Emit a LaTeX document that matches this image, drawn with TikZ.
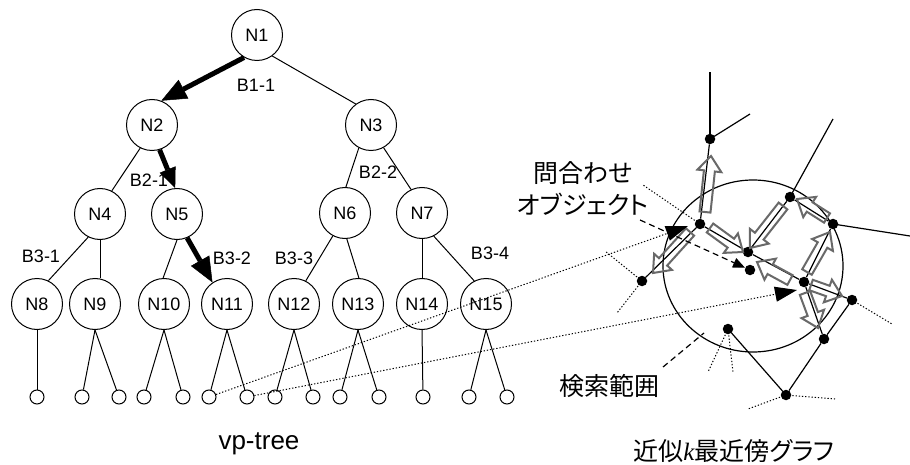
\documentclass[tikz,border=0pt]{standalone}
\usepackage{fontspec}
\setmainfont{Liberation Sans}
\newfontfamily\jpfont[RawFeature=+palt]{Noto Sans CJK JP}
\newfontfamily\kfont{Liberation Serif}
\usetikzlibrary{arrows.meta,calc}
\definecolor{hgray}{RGB}{105,105,105}
\newcommand\hollowarrow[2]{%
  \coordinate (hab) at ($(#2)!15pt!(#1)$);
  \draw[harrow] ($(#1)!5.5pt!90:(#2)$) -- ($(hab)!5.5pt!-90:(#1)$) -- ($(hab)!12pt!-90:(#1)$) -- (#2)
    -- ($(hab)!12pt!90:(#1)$) -- ($(hab)!5.5pt!90:(#1)$) -- ($(#1)!5.5pt!-90:(#2)$) -- cycle;}
\begin{document}
\begin{tikzpicture}[x=1pt,y=-1pt,
  tnode/.style={circle, draw, line width=1pt, minimum size=51pt, inner sep=0pt, font=\fontsize{18}{20}\selectfont},
  leaf/.style={circle, draw, line width=1pt, minimum size=14pt, inner sep=0pt},
  tedge/.style={line width=1pt},
  bigarrow/.style={line width=5pt, -{Triangle[length=25pt,width=21pt,line width=0.5pt]}},
  blabel/.style={font=\fontsize{18}{20}\selectfont},
  gdot/.style={circle, fill=black, minimum size=10.5pt, inner sep=0pt},
  gedge/.style={line width=1.2pt},
  gdotted/.style={line width=1pt, dash pattern=on 1.3pt off 1.9pt},
  gdashed/.style={line width=1.2pt, dash pattern=on 6pt off 4pt},
  harrow/.style={draw=hgray, line width=2pt, line join=miter},
  jplabel/.style={font=\jpfont\fontsize{25}{32}\selectfont, align=center, inner sep=0pt}]
\fill[white] (0,0) rectangle (910,465);
\useasboundingbox (0,0) rectangle (910,465);

% ---------------- vp-tree ----------------
\node[tnode] (N1) at (257,35) {N1};
\node[tnode] (N2) at (152,125) {N2};
\node[tnode] (N3) at (371,125) {N3};
\node[tnode] (N4) at (100,214) {N4};
\node[tnode] (N5) at (177,214) {N5};
\node[tnode] (N6) at (345,213) {N6};
\node[tnode] (N7) at (422,213) {N7};
\node[tnode] (N8) at (37,304) {N8};
\node[tnode] (N9) at (95,304) {N9};
\node[tnode] (N10) at (164,304) {N10};
\node[tnode] (N11) at (227,304) {N11};
\node[tnode] (N12) at (294,304) {N12};
\node[tnode] (N13) at (358,304) {N13};
\node[tnode] (N14) at (422,304) {N14};
\node[tnode] (N15) at (486,304) {N15};

\foreach \n/\x in {l8/37, l9a/82, l9b/119, l10a/144, l10b/183, l11a/209, l11b/247,
  l12a/275, l12b/313, l13a/340, l13b/379, l14/423, l15a/469, l15b/507}
  \node[leaf] (\n) at (\x,397) {};

\draw[tedge] (N1.306) -- (N3.126);
\draw[tedge] (N2.243) -- (N4.63);
\draw[tedge] (N3.242) -- (N6.88);
\draw[tedge] (N3.299) -- (N7.115);
\draw[tedge] (N4.243) -- (N8.64);
\draw[tedge] (N4.south) -- (N4.south |- N9.north);
\draw[tedge] (N5.270) -- (N10.92);
\draw[tedge] (N6.242) -- (N12.63);
\draw[tedge] (N6.274) -- (N13.88);
\draw[tedge] (N7.south) -- (N14.north);
\draw[tedge] (N7.297) -- (N15.117);

\draw[bigarrow] (N1.240) -- (N2.69);
\draw[bigarrow, -{Triangle[length=20pt,width=17pt,line width=0.5pt]}] (N2.287) -- (N5.94);
\draw[bigarrow] (N5.293) -- (N11.124);

\draw[tedge] (N8.south) -- (l8);
\draw[tedge] (N9.south) -- (l9a);  \draw[tedge] (N9.south) -- (l9b);
\draw[tedge] (N10.south) -- (l10a); \draw[tedge] (N10.south) -- (l10b);
\draw[tedge] (N11.south) -- (l11a); \draw[tedge] (N11.south) -- (l11b);
\draw[tedge] (N12.south) -- (l12a); \draw[tedge] (N12.south) -- (l12b);
\draw[tedge] (N13.south) -- (l13a); \draw[tedge] (N13.south) -- (l13b);
\draw[tedge] (N14.south) -- (l14);
\draw[tedge] (N15.south) -- (l15a); \draw[tedge] (N15.south) -- (l15b);

\node[blabel] (B11) at (256,85) {B1-1};
\node[blabel] (B21) at (149,180) {B2-1};
\node[blabel] (B22) at (378,172) {B2-2};
\node[blabel] (B31) at (41,256) {B3-1};
\node[blabel] (B32) at (232,258) {B3-2};
\node[blabel] (B33) at (294,258) {B3-3};
\node[blabel] (B34) at (490,253) {B3-4};

\node[font=\fontsize{26}{30}\selectfont] (vpt) at (259,444) {vp-tree};

% ---------------- k-NN graph ----------------
\draw[line width=1.2pt] (753,266) ellipse [x radius=90, y radius=86];

\node[gdot] (gA) at (710,139) {};
\node[gdot] (gB) at (700,224) {};
\node[gdot] (gC) at (642,281) {};
\node[gdot] (gD) at (748,252) {};
\node[gdot] (gE) at (750,270) {};
\node[gdot] (gF) at (790,197) {};
\node[gdot] (gG) at (833,224) {};
\node[gdot] (gH) at (804,282) {};
\node[gdot] (gI) at (852,300) {};
\node[gdot] (gJ) at (824,339) {};
\node[gdot] (gK) at (728,329) {};
\node[gdot] (gL) at (786,395) {};

\coordinate (cA1) at (710,72);
\coordinate (cA2) at (750,114);
\coordinate (cF1) at (833,119);
\coordinate (cG1) at (910,236);
\coordinate (cB1) at (643,185);
\coordinate (cC1) at (605,251);
\coordinate (cC2) at (617,313);
\coordinate (cK1) at (708,372);
\coordinate (cK2) at (733,372);
\coordinate (cL1) at (748,409);
\coordinate (cL2) at (835,399);
\coordinate (cI1) at (892,324);

\draw[gedge] (gA.center) -- (cA1);
\draw[gedge] (gA.center) -- (cA2);
\draw[gedge] (gA) -- (gB);
\draw[gedge] (gB) -- (gC);
\draw[gedge] (gB) -- (gD);
\draw[gedge] (gD) -- (gF);
\draw[gedge] (gF.center) -- (cF1);
\draw[gedge] (gF) -- (gG);
\draw[gedge] (gG.center) -- (cG1);
\draw[gedge] (gG) -- (gH);
\draw[gedge] (gD) -- (gH);
\draw[gedge] (gH) -- (gI);
\draw[gedge] (gH) -- (gJ);
\draw[gedge] (gI) -- (gJ);
\draw[gedge] (gK) -- (gL);
\draw[gedge] (gL) -- (gJ);

\draw[gdotted] (gB.center) -- (cB1);
\draw[gdotted] (gC.center) -- (cC1);
\draw[gdotted] (gC.center) -- (cC2);
\draw[gdotted] (gK.center) -- (cK1);
\draw[gdotted] (gK.center) -- (cK2);
\draw[gdotted] (gL.center) -- (cL1);
\draw[gdotted] (gL.center) -- (cL2);
\draw[gdotted] (gI.center) -- (cI1);

% hollow search arrows
\hollowarrow{705,212}{711,156}
\hollowarrow{690,232}{653,273}
\hollowarrow{710,228}{743,252}
\hollowarrow{783,206}{750,248}
\hollowarrow{790,280}{757,262}
\hollowarrow{827,218}{797,199}
\hollowarrow{807,272}{830,232}
\hollowarrow{811,285}{842,296}
\hollowarrow{805,293}{818,328}

% mapping from tree leaves to graph
\coordinate (tipB) at (688,226);
\coordinate (tipH) at (797,290);
\draw[gdotted, -{Triangle[length=22pt,width=15pt]}] (l11a) -- (tipB);
\draw[gdotted, -{Triangle[length=22pt,width=15pt]}] (l11b) -- (tipH);

% labels
\node[jplabel] (qlabel) at (583,189) {問合わせ\\オブジェクト};
\coordinate (qstart) at (640,220);
\draw[gdashed, -{Triangle[length=12pt,width=10pt]}] (qstart) -- (gE);

\node[jplabel] (rlabel) at (609,386) {検索範囲};
\coordinate (rstart) at (663,367);
\coordinate (rend) at (704,333);
\draw[gdashed] (rstart) -- (rend);

\node[jplabel] (glabel) at (734,451) {近似{\kfont\itshape k}最近傍グラフ};
\end{tikzpicture}
\end{document}
